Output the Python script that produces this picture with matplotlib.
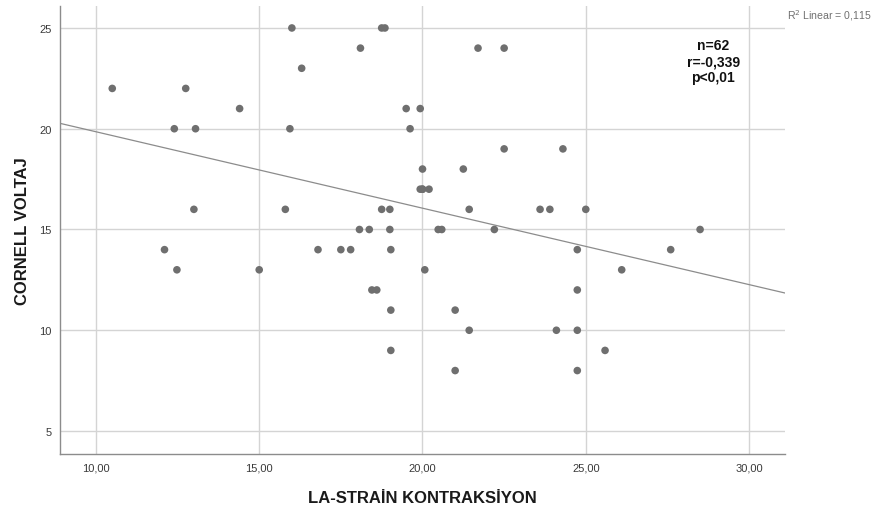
import matplotlib
matplotlib.use("Agg")
import matplotlib.pyplot as plt
import numpy as np

plt.rcParams['font.family'] = ['Liberation Sans', 'DejaVu Sans']

# LA strain contraction (x) and Cornell voltage (y)
la_strain = [16.0, 18.75, 18.85,
             18.1, 21.7, 22.5,
             16.3,
             10.5, 12.75,
             14.4, 19.5, 19.93,
             12.4, 13.05, 15.94, 19.62,
             22.5, 24.3,
             20.0, 21.25,
             19.93, 20.0, 20.2,
             13.0, 15.8, 18.75, 19.0, 21.43, 23.6, 23.9, 25.0,
             18.07, 18.37, 19.0, 20.48, 20.59, 22.2, 28.5,
             12.1, 16.8, 17.5, 17.8, 19.03, 24.74, 27.6,
             12.48, 15.0, 20.07, 26.1,
             18.45, 18.6, 24.74,
             19.03, 21.0,
             21.43, 24.1, 24.74,
             19.03, 25.59,
             21.0, 24.74,
             20.0]
cornell = [25, 25, 25,
           24, 24, 24,
           23,
           22, 22,
           21, 21, 21,
           20, 20, 20, 20,
           19, 19,
           18, 18,
           17, 17, 17,
           16, 16, 16, 16, 16, 16, 16, 16,
           15, 15, 15, 15, 15, 15, 15,
           14, 14, 14, 14, 14, 14, 14,
           13, 13, 13, 13,
           12, 12, 12,
           11, 11,
           10, 10, 10,
           9, 9,
           8, 8,
           17]

x_ticks = [10, 15, 20, 25, 30]
x_tick_labels = ["10,00", "15,00", "20,00", "25,00", "30,00"]
y_ticks = [5, 10, 15, 20, 25]
y_tick_labels = ["5", "10", "15", "20", "25"]

x = np.array(la_strain)
y = np.array(cornell)

fig = plt.figure(figsize=(8.78, 5.10), dpi=100)
ax = fig.add_axes([60/878, 55/510, 725/878, 448/510])

ax.set_xlim(8.9, 31.1)
ax.set_ylim(3.86, 26.09)

ax.set_xticks(x_ticks)
ax.set_xticklabels(x_tick_labels)
ax.set_yticks(y_ticks)
ax.set_yticklabels(y_tick_labels)
ax.tick_params(length=0, labelsize=8, colors='#3a3a3a', pad=6)

ax.grid(True, color='#d4d4d4', linewidth=1.0)
ax.set_axisbelow(True)
for s in ['top', 'right']:
    ax.spines[s].set_visible(False)
for s in ['left', 'bottom']:
    ax.spines[s].set_color('#8c8c8c')
    ax.spines[s].set_linewidth(1.0)

ax.scatter(x, y, s=30, color='#6f6f6f', edgecolors='none', zorder=3)

slope, intercept = np.polyfit(x, y, 1)
xl = np.array(ax.get_xlim())
ax.plot(xl, intercept + slope * xl, color='#8c8c8c', linewidth=0.9, zorder=2)

ax.set_xlabel("LA-STRAİN KONTRAKSİYON", fontsize=12, fontweight='bold',
              color='#1a1a1a', labelpad=13)
ax.set_ylabel("CORNELL VOLTAJ", fontsize=12, fontweight='bold',
              color='#1a1a1a', labelpad=7)

ax.text(28.9, 23.36, "n=62\nr=-0,339\np<0,01", ha='center', va='center',
        fontsize=10, fontweight='bold', color='#111111', linespacing=1.15)

fig.text(787/878, 1 - 16/510, "R$^2$ Linear = 0,115", fontsize=7.6, color='#707070',
         ha='left', va='center')

fig.savefig("out.png", dpi=100)
